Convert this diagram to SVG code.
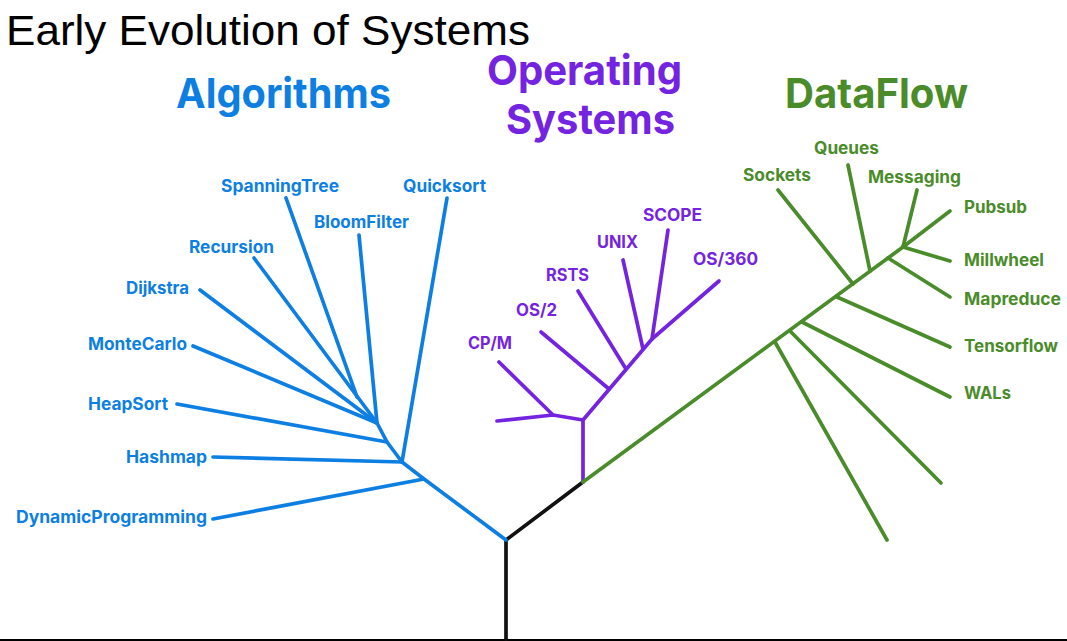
<svg xmlns="http://www.w3.org/2000/svg" width="1067" height="641" viewBox="0 0 1067 641">
  <style>
    .title { font-family: "Liberation Sans", Arial, sans-serif; font-size: 43px; fill: #000; }
    .head { font-family: Inter, "Liberation Sans", sans-serif; font-weight: 700; font-size: 41px; }
    .lbl { font-family: Inter, "Liberation Sans", sans-serif; font-weight: 700; font-size: 17px; }
    .algo { fill: #0d7fe3; }
    .os { fill: #7424e0; }
    .df { fill: #4a8c2a; }
    .edge { fill: none; stroke-width: 3.7; stroke-linecap: round; stroke-linejoin: round; }
    .e-algo { stroke: #0d7fe3; }
    .e-os { stroke: #7424e0; }
    .e-df { stroke: #4a8c2a; }
    .e-root { stroke: #111; }
  </style>

  <rect x="0" y="0" width="1067" height="641" fill="#fff"/>
  <rect x="0" y="639" width="1067" height="2" fill="#000"/>

  <text class="title" x="6" y="45" textLength="524" lengthAdjust="spacingAndGlyphs">Early Evolution of Systems</text>

  <!-- branch headings -->
  <g id="heading-algorithms"><text class="head algo" x="176" y="108" textLength="215" lengthAdjust="spacingAndGlyphs">Algorithms</text></g>
  <g id="heading-os">
    <text class="head os" x="487" y="85" textLength="195" lengthAdjust="spacingAndGlyphs">Operating</text>
    <text class="head os" x="506" y="134" textLength="169" lengthAdjust="spacingAndGlyphs">Systems</text>
  </g>
  <g id="heading-dataflow"><text class="head df" x="785" y="108" textLength="183" lengthAdjust="spacingAndGlyphs">DataFlow</text></g>

  <!-- tree branches -->
  <g id="connectors">
    <path class="edge e-root" d="M506,639 L506,540 L583,482"/>

    <path class="edge e-algo" d="M506,540 L424,479 L402,462 L387,442 L377,423"/>
    <path class="edge e-algo" d="M424,479 L213,519"/>
    <path class="edge e-algo" d="M402,462 L213,457"/>
    <path class="edge e-algo" d="M402,462 L447,198"/>
    <path class="edge e-algo" d="M387,442 L177,404"/>
    <path class="edge e-algo" d="M377,423 L193,346"/>
    <path class="edge e-algo" d="M377,423 L200,290"/>
    <path class="edge e-algo" d="M377,423 L359,235"/>
    <path class="edge e-algo" d="M377,423 L254,258"/>
    <path class="edge e-algo" d="M357,397 L286,198"/>

    <path class="edge e-os" d="M583,482 L583,420 L652,339 L719,281"/>
    <path class="edge e-os" d="M583,420 L553,415 L497,421"/>
    <path class="edge e-os" d="M553,415 L499,362"/>
    <path class="edge e-os" d="M609,389 L541,332"/>
    <path class="edge e-os" d="M626,369 L578,291"/>
    <path class="edge e-os" d="M643,349 L623,260"/>
    <path class="edge e-os" d="M652,339 L668,230"/>

    <path class="edge e-df" d="M583,482 L903,247"/>
    <path class="edge e-df" d="M775,342 L887,540"/>
    <path class="edge e-df" d="M790,331 L941,483"/>
    <path class="edge e-df" d="M802,322 L950,397"/>
    <path class="edge e-df" d="M837,297 L950,347"/>
    <path class="edge e-df" d="M853,284 L778,190"/>
    <path class="edge e-df" d="M870,271 L848,165"/>
    <path class="edge e-df" d="M888,258 L950,297"/>
    <path class="edge e-df" d="M903,247 L950,261"/>
    <path class="edge e-df" d="M903,247 L917,190"/>
    <path class="edge e-df" d="M903,247 L950,211"/>
  </g>

  <!-- algorithms leaves -->
  <g id="spanningtree"><text class="lbl algo" x="221" y="192" textLength="118" lengthAdjust="spacingAndGlyphs">SpanningTree</text></g>
  <g id="quicksort"><text class="lbl algo" x="403" y="192" textLength="83" lengthAdjust="spacingAndGlyphs">Quicksort</text></g>
  <g id="bloomfilter"><text class="lbl algo" x="314" y="228" textLength="95" lengthAdjust="spacingAndGlyphs">BloomFilter</text></g>
  <g id="recursion"><text class="lbl algo" x="189" y="253" textLength="85" lengthAdjust="spacingAndGlyphs">Recursion</text></g>
  <g id="dijkstra"><text class="lbl algo" x="126" y="294" textLength="63" lengthAdjust="spacingAndGlyphs">Dijkstra</text></g>
  <g id="montecarlo"><text class="lbl algo" x="88" y="350" textLength="99" lengthAdjust="spacingAndGlyphs">MonteCarlo</text></g>
  <g id="heapsort"><text class="lbl algo" x="88" y="410" textLength="80" lengthAdjust="spacingAndGlyphs">HeapSort</text></g>
  <g id="hashmap"><text class="lbl algo" x="126" y="463" textLength="81" lengthAdjust="spacingAndGlyphs">Hashmap</text></g>
  <g id="dynamicprogramming"><text class="lbl algo" x="16" y="523" textLength="191" lengthAdjust="spacingAndGlyphs">DynamicProgramming</text></g>

  <!-- operating system leaves -->
  <g id="scope"><text class="lbl os" x="643" y="221" textLength="59" lengthAdjust="spacingAndGlyphs">SCOPE</text></g>
  <g id="unix"><text class="lbl os" x="597" y="248" textLength="41" lengthAdjust="spacingAndGlyphs">UNIX</text></g>
  <g id="os360"><text class="lbl os" x="693" y="265" textLength="65" lengthAdjust="spacingAndGlyphs">OS/360</text></g>
  <g id="rsts"><text class="lbl os" x="546" y="281" textLength="43" lengthAdjust="spacingAndGlyphs">RSTS</text></g>
  <g id="os2"><text class="lbl os" x="516" y="316" textLength="41" lengthAdjust="spacingAndGlyphs">OS/2</text></g>
  <g id="cpm"><text class="lbl os" x="468" y="349" textLength="44" lengthAdjust="spacingAndGlyphs">CP/M</text></g>

  <!-- dataflow leaves -->
  <g id="sockets"><text class="lbl df" x="743" y="181" textLength="68" lengthAdjust="spacingAndGlyphs">Sockets</text></g>
  <g id="queues"><text class="lbl df" x="814" y="154" textLength="65" lengthAdjust="spacingAndGlyphs">Queues</text></g>
  <g id="messaging"><text class="lbl df" x="868" y="183" textLength="93" lengthAdjust="spacingAndGlyphs">Messaging</text></g>
  <g id="pubsub"><text class="lbl df" x="964" y="213" textLength="63" lengthAdjust="spacingAndGlyphs">Pubsub</text></g>
  <g id="millwheel"><text class="lbl df" x="964" y="266" textLength="80" lengthAdjust="spacingAndGlyphs">Millwheel</text></g>
  <g id="mapreduce"><text class="lbl df" x="964" y="305" textLength="97" lengthAdjust="spacingAndGlyphs">Mapreduce</text></g>
  <g id="tensorflow"><text class="lbl df" x="964" y="352" textLength="94" lengthAdjust="spacingAndGlyphs">Tensorflow</text></g>
  <g id="wals"><text class="lbl df" x="964" y="399" textLength="47" lengthAdjust="spacingAndGlyphs">WALs</text></g>
</svg>
